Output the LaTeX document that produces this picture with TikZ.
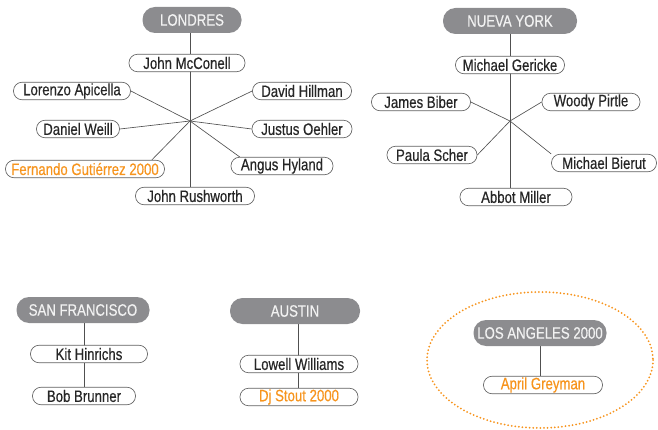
\documentclass[tikz,border=0pt]{standalone}
\usepackage{fontspec}
\setmainfont[FakeStretch=0.8, FakeBold=0.4]{Liberation Sans}
\usetikzlibrary{backgrounds}
\definecolor{cityfill}{HTML}{8C8C8F}
\definecolor{citytext}{HTML}{F2F2F2}
\definecolor{linkgray}{HTML}{505050}
\definecolor{pillline}{HTML}{606060}
\definecolor{accent}{HTML}{F7941D}
\tikzset{
  city/.style={fill=cityfill, text=citytext, rounded corners=12.5pt,
    minimum height=26pt, inner sep=0pt, font=\fontsize{16.5}{19}\selectfont},
  person/.style={draw=pillline, fill=white, line width=0.65pt, rounded corners=8.5pt,
    minimum height=17.5pt, inner sep=0pt, text=black!85, font=\fontsize{16.5}{19}\selectfont},
  winner/.style={person, text=accent},
  link/.style={draw=linkgray, line width=0.65pt},
}
\begin{document}
\begin{tikzpicture}[x=1pt, y=-1pt]
\useasboundingbox (0,0) rectangle (658,430);

% --- Londres ---
\node[city, minimum width=99pt] (lon) at (192,20) {LONDRES};
\node[person, minimum width=116pt] (mcconell) at (187,63) {John McConell};
\node[person, minimum width=117pt] (apicella) at (72,91) {Lorenzo Apicella};
\node[person, minimum width=99pt] (hillman) at (302,91) {David Hillman};
\node[person, minimum width=83pt] (weill) at (78,129) {Daniel Weill};
\node[person, minimum width=100pt] (oehler) at (302,129) {Justus Oehler};
\node[winner, minimum width=159pt] (gutierrez) at (85,169) {Fernando Gutiérrez 2000};
\node[person, minimum width=102pt] (hyland) at (282,166) {Angus Hyland};
\node[person, minimum width=119pt] (rushworth) at (195,196) {John Rushworth};
\coordinate (lonhub) at (190,121);

% --- Nueva York ---
\node[city, minimum width=134pt] (ny) at (510,21) {NUEVA YORK};
\node[person, minimum width=109pt] (gericke) at (510,65) {Michael Gericke};
\node[person, minimum width=99pt] (biber) at (421,102) {James Biber};
\node[person, minimum width=98pt] (pirtle) at (591,102) {Woody Pirtle};
\node[person, minimum width=90pt] (scher) at (432,155) {Paula Scher};
\node[person, minimum width=105pt] (bierut) at (604,163) {Michael Bierut};
\node[person, minimum width=112pt] (miller) at (516,197) {Abbot Miller};
\coordinate (nyhub) at (510,121);

% --- San Francisco ---
\node[city, minimum width=133pt] (sf) at (83,310) {SAN FRANCISCO};
\node[person, minimum width=117pt] (hinrichs) at (89,354) {Kit Hinrichs};
\node[person, minimum width=103pt] (brunner) at (84,396) {Bob Brunner};

% --- Austin ---
\node[city, minimum width=130pt] (austin) at (295,311) {AUSTIN};
\node[person, minimum width=118pt] (williams) at (299,364) {Lowell Williams};
\node[winner, minimum width=118pt] (stout) at (299,397) {Dj Stout 2000};

% --- Los Angeles ---
\node[city, minimum width=133pt] (la) at (540,333) {LOS ANGELES 2000};
\node[winner, minimum width=119pt] (greyman) at (543,385) {April Greyman};
\draw[accent, line width=2pt, line cap=round, dash pattern=on 0pt off 3.6pt]
  (540,360) ellipse [x radius=113, y radius=68];

\begin{pgfonlayer}{background}
  % trunk lines
  \draw[link] (lon.south -| lonhub) -- (rushworth.north -| lonhub);
  \draw[link] (ny.south -| nyhub) -- (miller.north -| nyhub);
  \draw[link] (sf.south -| brunner) -- (brunner.north);
  \draw[link] (austin.south -| 298,0) -- (stout.north -| 298,0);
  \draw[link] (la.south -| 540,0) -- (greyman.north -| 540,0);
  % spokes, London
  \draw[link] (lonhub) -- (apicella.east);
  \draw[link] (lonhub) -- (hillman.west);
  \draw[link] (lonhub) -- (weill.east);
  \draw[link] (lonhub) -- (oehler.west);
  \draw[link] (lonhub) -- ([xshift=-13pt]gutierrez.north east);
  \draw[link] (lonhub) -- ([xshift=9pt]hyland.north west);
  % spokes, New York
  \draw[link] (nyhub) -- (biber.east);
  \draw[link] (nyhub) -- (pirtle.west);
  \draw[link] (nyhub) -- (scher.east);
  \draw[link] (nyhub) -- (bierut.north west);
\end{pgfonlayer}
\end{tikzpicture}
\end{document}
